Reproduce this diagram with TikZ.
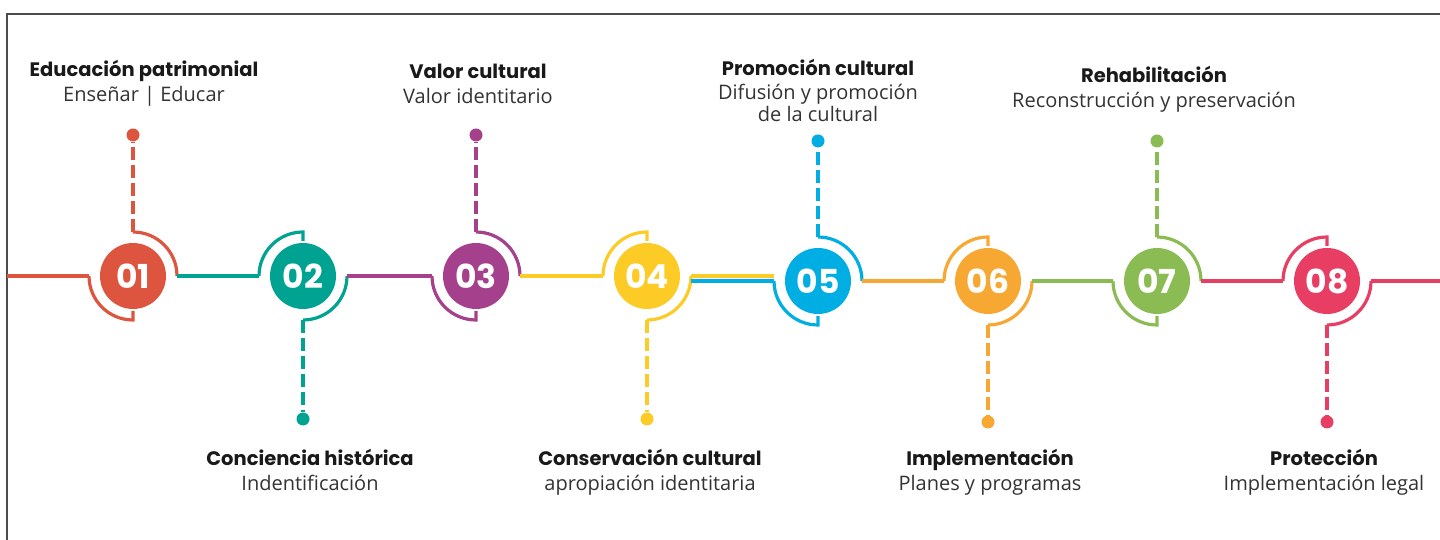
\documentclass[tikz,border=0pt]{standalone}
\usepackage{fontspec}
\setmainfont{Open Sans}
\newfontfamily\headfont{Poppins}
\usetikzlibrary{positioning}

\definecolor{cOne}{HTML}{DD553F}
\definecolor{cTwo}{HTML}{00A392}
\definecolor{cThree}{HTML}{A4408C}
\definecolor{cFour}{HTML}{FDCB25}
\definecolor{cFive}{HTML}{00AEE4}
\definecolor{cSix}{HTML}{F7A832}
\definecolor{cSeven}{HTML}{8BBC53}
\definecolor{cEight}{HTML}{E83E63}

\tikzset{
  stepnum/.style={circle, fill=#1, minimum size=66pt, inner sep=0pt, text=white,
    font=\headfont\bfseries\fontsize{33}{33}\selectfont},
  ring/.style={draw=#1, line width=3.2pt},
  tie/.style={draw=#1, line width=3.8pt},
  leader/.style={draw=#1, line width=3.4pt, dash pattern=on 13pt off 5pt},
  dotend/.style={circle, fill=#1, minimum size=13pt, inner sep=0pt},
  headline/.style={font=\headfont\bfseries\fontsize{19.5}{22}\selectfont, inner sep=0pt,
    text height=13pt, text depth=4pt, text=black!90},
  subline/.style={font=\fontsize{20}{24}\selectfont, inner sep=0pt,
    text height=13pt, text depth=4pt, text=black!80},
}

\begin{document}
\begin{tikzpicture}[x=1pt, y=1pt, on grid, node distance=25pt and 0pt]
  \useasboundingbox (0,0) rectangle (1440,540);
  \draw[black!70, line width=1.5pt] (7,0) -- (7,526) -- (1440,526); % frame

  % circles, end dots and ring points
  \foreach \i/\col/\cx/\cy/\py in {1/cOne/133/264/405, 2/cTwo/303/264/121,
      3/cThree/476/264/405, 4/cFour/647/264/121, 5/cFive/818/259/399,
      6/cSix/988/259/118, 7/cSeven/1157/259/399, 8/cEight/1327/259/118}{
    \node[stepnum=\col] (c\i) at (\cx,\cy) {0\i};
    \node[dotend=\col] (p\i) at (\cx,\py) {};
    \coordinate (w\i) at (\cx-44,\cy);
    \coordinate (e\i) at (\cx+44,\cy);
    \coordinate (n\i) at (\cx,\cy+44);
    \coordinate (s\i) at (\cx,\cy-44);
  }
  \coordinate (west) at (7,264);
  \coordinate (east) at (1440,259);

  % rings: odd ones point up, even ones point down
  \foreach \i/\col in {1/cOne, 3/cThree, 5/cFive, 7/cSeven}{
    \draw[ring=\col] (e\i) arc[start angle=0, end angle=90, radius=44pt];
    \draw[ring=\col] (w\i) arc[start angle=180, end angle=270, radius=44pt] -- ++(0,9pt);
    \draw[leader=\col] (n\i) -- (p\i);
  }
  \foreach \i/\col in {2/cTwo, 4/cFour, 6/cSix, 8/cEight}{
    \draw[ring=\col] (w\i) arc[start angle=180, end angle=90, radius=44pt] -- ++(0,-9pt);
    \draw[ring=\col] (e\i) arc[start angle=0, end angle=-90, radius=44pt];
    \draw[leader=\col] (s\i) -- (p\i);
  }

  % timeline
  \draw[tie=cOne] (west) -- (w1);
  \draw[tie=cTwo] (e1) -- (w2);
  \draw[tie=cThree] (e2) -- (w3);
  \draw[tie=cFour] (e3) -- (w4);
  \draw[tie=cFour] (e4) -- (w5 |- e4);
  \draw[tie=cFive] (e4 |- w5) -- (w5);
  \draw[tie=cSix] (e5) -- (w6);
  \draw[tie=cSeven] (e6) -- (w7);
  \draw[tie=cEight] (e7) -- (w8);
  \draw[tie=cEight] (e8) -- (east);

  % labels
  \node[headline] (t1) at (144,468) {Educación patrimonial};
  \node[subline, below=of t1] (s1) {Enseñar | Educar};
  \node[headline] (t2) at (310,79) {Conciencia histórica};
  \node[subline, below=of t2] (s2) {Indentificación};
  \node[headline] (t3) at (478,466) {Valor cultural};
  \node[subline, below=of t3] (s3) {Valor identitario};
  \node[headline] (t4) at (650,79) {Conservación cultural};
  \node[subline, below=of t4] (s4) {apropiación identitaria};
  \node[headline] (t5) at (818,469) {Promoción cultural};
  \node[subline, below=24pt of t5] (s5) {Difusión y promoción};
  \node[subline, below=22pt of s5] (s5b) {de la cultural};
  \node[headline] (t6) at (990,79) {Implementación};
  \node[subline, below=of t6] (s6) {Planes y programas};
  \node[headline] (t7) at (1154,462) {Rehabilitación};
  \node[subline, below=of t7] (s7) {Reconstrucción y preservación};
  \node[headline] (t8) at (1324,79) {Protección};
  \node[subline, below=of t8] (s8) {Implementación legal};
\end{tikzpicture}
\end{document}
